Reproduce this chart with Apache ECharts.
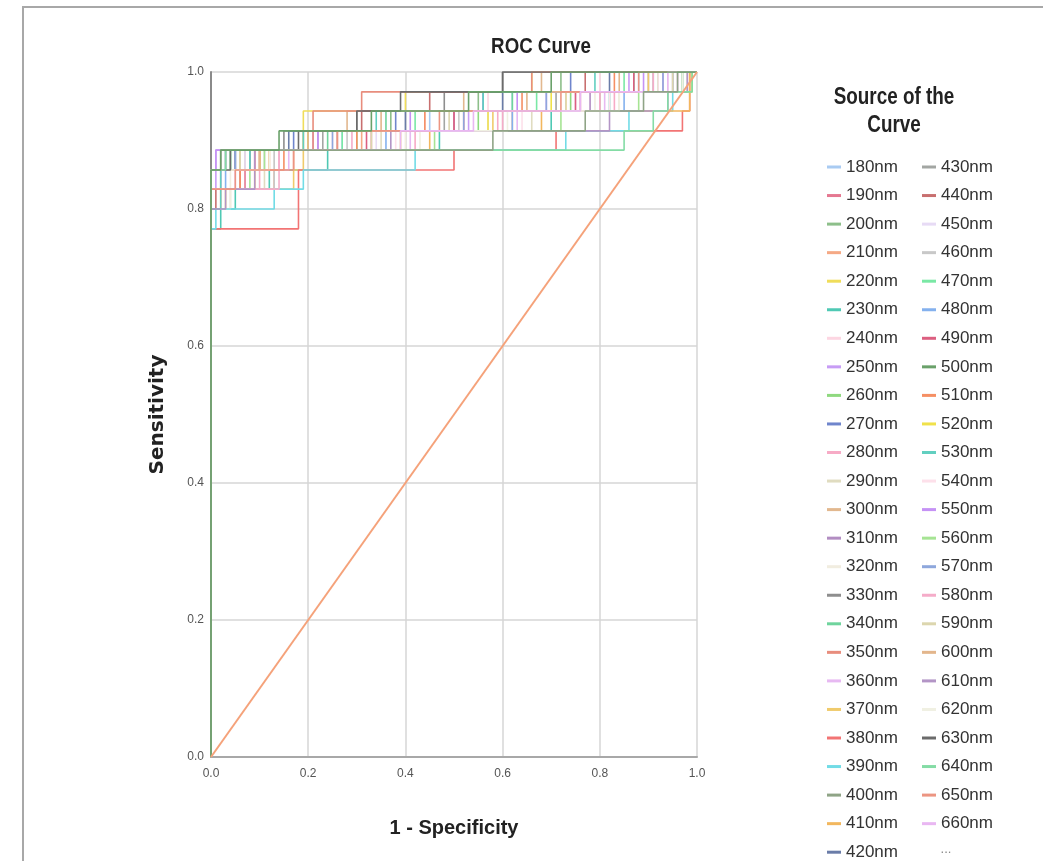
<!DOCTYPE html>
<html>
<head>
<meta charset="utf-8">
<title>ROC Curve</title>
<script src="https://cdn.jsdelivr.net/npm/echarts@6/dist/echarts.min.js"></script>
<style>
  html, body { margin: 0; padding: 0; background: #fff; }
  #chart { width: 1043px; height: 861px; }
</style>
</head>
<body>
<div id="chart"></div>
<script>
// legend labels, in legend order
const wavelengths = [
  "180nm", "190nm", "200nm", "210nm", "220nm", "230nm", "240nm", "250nm", "260nm", "270nm",
  "280nm", "290nm", "300nm", "310nm", "320nm", "330nm", "340nm", "350nm", "360nm", "370nm",
  "380nm", "390nm", "400nm", "410nm", "420nm",
  "430nm", "440nm", "450nm", "460nm", "470nm", "480nm", "490nm", "500nm", "510nm", "520nm",
  "530nm", "540nm", "550nm", "560nm", "570nm", "580nm", "590nm", "600nm", "610nm", "620nm",
  "630nm", "640nm", "650nm", "660nm",
];

const tickValues = [0, 0.2, 0.4, 0.6, 0.8, 1.0];

// ROC corners [1 - specificity, sensitivity], drawn as steps
const roc180 = [[0, 0], [0, 0.857], [0.03, 0.886], [0.27, 0.914], [0.45, 0.943], [0.62, 0.971], [0.88, 1], [1, 1]];
const roc190 = [[0, 0], [0, 0.829], [0.07, 0.857], [0.1, 0.886], [0.33, 0.914], [0.52, 0.943], [0.76, 0.971], [0.93, 1], [1, 1]];
const roc200 = [[0, 0], [0, 0.857], [0.05, 0.886], [0.2, 0.914], [0.37, 0.943], [0.55, 0.971], [0.72, 1], [1, 1]];
const roc210 = [[0, 0], [0, 0.8], [0.02, 0.829], [0.13, 0.857], [0.17, 0.886], [0.31, 0.914], [0.62, 0.943], [0.8, 0.971], [0.95, 1], [1, 1]];
const roc220 = [[0, 0], [0, 0.857], [0.06, 0.886], [0.19, 0.943], [0.4, 0.971], [0.66, 1], [1, 1]];
const roc230 = [[0, 0], [0, 0.771], [0.02, 0.8], [0.05, 0.829], [0.12, 0.857], [0.24, 0.886], [0.47, 0.914], [0.7, 0.943], [0.82, 0.971], [0.97, 1], [1, 1]];
const roc240 = [[0, 0], [0, 0.857], [0.09, 0.886], [0.25, 0.914], [0.44, 0.943], [0.57, 0.971], [0.8, 1], [1, 1]];
const roc250 = [[0, 0], [0, 0.829], [0.01, 0.886], [0.21, 0.914], [0.53, 0.943], [0.69, 0.971], [0.86, 1], [1, 1]];
const roc260 = [[0, 0], [0, 0.857], [0.04, 0.886], [0.3, 0.914], [0.55, 0.943], [0.74, 0.971], [0.92, 1], [1, 1]];
const roc270 = [[0, 0], [0, 0.857], [0.08, 0.886], [0.17, 0.914], [0.38, 0.943], [0.56, 0.971], [0.74, 1], [1, 1]];
const roc280 = [[0, 0], [0, 0.829], [0.1, 0.857], [0.14, 0.886], [0.42, 0.914], [0.59, 0.943], [0.83, 0.971], [0.96, 1], [1, 1]];
const roc290 = [[0, 0], [0, 0.8], [0.04, 0.829], [0.11, 0.886], [0.35, 0.914], [0.66, 0.943], [0.84, 0.971], [0.98, 1], [1, 1]];
const roc300 = [[0, 0], [0, 0.857], [0.06, 0.886], [0.19, 0.914], [0.28, 0.943], [0.52, 0.971], [0.68, 1], [1, 1]];
const roc310 = [[0, 0], [0, 0.829], [0.02, 0.857], [0.05, 0.886], [0.22, 0.914], [0.5, 0.943], [0.78, 0.971], [0.9, 1], [1, 1]];
const roc320 = [[0, 0], [0, 0.8], [0.04, 0.857], [0.13, 0.886], [0.4, 0.914], [0.6, 0.943], [0.79, 0.971], [0.94, 1], [1, 1]];
const roc330 = [[0, 0], [0, 0.857], [0.03, 0.886], [0.15, 0.914], [0.3, 0.943], [0.48, 0.971], [0.6, 1], [1, 1]];
const roc340 = [[0, 0], [0, 0.857], [0.07, 0.886], [0.24, 0.914], [0.36, 0.943], [0.62, 0.971], [0.87, 1], [1, 1]];
const roc350 = [[0, 0], [0, 0.857], [0.12, 0.886], [0.21, 0.943], [0.31, 0.971], [0.66, 1], [1, 1]];
const roc360 = [[0, 0], [0, 0.829], [0.05, 0.857], [0.16, 0.886], [0.41, 0.914], [0.63, 0.943], [0.81, 0.971], [0.93, 1], [1, 1]];
const roc370 = [[0, 0], [0, 0.8], [0.03, 0.829], [0.17, 0.857], [0.19, 0.886], [0.39, 0.914], [0.58, 0.943], [0.73, 0.971], [0.9, 1], [1, 1]];
const roc380 = [[0, 0], [0, 0.771], [0.18, 0.857], [0.5, 0.886], [0.71, 0.914], [0.97, 0.943], [0.985, 1], [1, 1]];
const roc390 = [[0, 0], [0, 0.771], [0.01, 0.8], [0.13, 0.829], [0.19, 0.857], [0.42, 0.886], [0.73, 0.914], [0.86, 0.943], [0.95, 0.971], [0.99, 1], [1, 1]];
const roc400 = [[0, 0], [0, 0.857], [0.02, 0.886], [0.58, 0.914], [0.77, 0.943], [0.89, 0.971], [0.96, 1], [1, 1]];
const roc410 = [[0, 0], [0, 0.829], [0.09, 0.857], [0.12, 0.886], [0.45, 0.914], [0.68, 0.943], [0.985, 1], [1, 1]];
const roc420 = [[0, 0], [0, 0.857], [0.05, 0.886], [0.16, 0.914], [0.4, 0.943], [0.6, 0.971], [0.82, 1], [1, 1]];
const roc430 = [[0, 0], [0, 0.857], [0.08, 0.886], [0.23, 0.914], [0.48, 0.943], [0.71, 0.971], [0.91, 1], [1, 1]];
const roc440 = [[0, 0], [0, 0.8], [0.01, 0.829], [0.06, 0.857], [0.1, 0.886], [0.26, 0.914], [0.31, 0.943], [0.45, 0.971], [0.77, 1], [1, 1]];
const roc450 = [[0, 0], [0, 0.857], [0.11, 0.886], [0.34, 0.914], [0.57, 0.943], [0.75, 0.971], [0.96, 1], [1, 1]];
const roc460 = [[0, 0], [0, 0.829], [0.13, 0.886], [0.28, 0.914], [0.51, 0.943], [0.8, 0.971], [0.97, 1], [1, 1]];
const roc470 = [[0, 0], [0, 0.857], [0.04, 0.886], [0.27, 0.914], [0.42, 0.943], [0.67, 0.971], [0.85, 1], [1, 1]];
const roc480 = [[0, 0], [0, 0.829], [0.03, 0.857], [0.07, 0.886], [0.36, 0.914], [0.62, 0.943], [0.85, 0.971], [0.95, 1], [1, 1]];
const roc490 = [[0, 0], [0, 0.857], [0.09, 0.886], [0.32, 0.914], [0.5, 0.943], [0.75, 0.971], [0.87, 1], [1, 1]];
const roc500 = [[0, 0], [0, 0.857], [0.02, 0.886], [0.14, 0.914], [0.33, 0.943], [0.53, 0.971], [0.7, 1], [1, 1]];
const roc510 = [[0, 0], [0, 0.829], [0.06, 0.857], [0.15, 0.886], [0.3, 0.914], [0.44, 0.943], [0.64, 0.971], [0.83, 1], [1, 1]];
const roc520 = [[0, 0], [0, 0.857], [0.1, 0.886], [0.2, 0.914], [0.57, 0.943], [0.7, 0.971], [0.99, 1], [1, 1]];
const roc530 = [[0, 0], [0, 0.8], [0.02, 0.857], [0.08, 0.886], [0.19, 0.914], [0.34, 0.943], [0.56, 0.971], [0.79, 1], [1, 1]];
const roc540 = [[0, 0], [0, 0.857], [0.07, 0.886], [0.38, 0.914], [0.64, 0.943], [0.82, 0.971], [0.92, 1], [1, 1]];
const roc550 = [[0, 0], [0, 0.857], [0.01, 0.886], [0.22, 0.914], [0.41, 0.943], [0.63, 0.971], [0.89, 1], [1, 1]];
const roc560 = [[0, 0], [0, 0.829], [0.08, 0.857], [0.11, 0.886], [0.46, 0.914], [0.72, 0.943], [0.88, 0.971], [0.97, 1], [1, 1]];
const roc570 = [[0, 0], [0, 0.857], [0.05, 0.886], [0.25, 0.914], [0.52, 0.943], [0.69, 0.971], [0.93, 1], [1, 1]];
const roc580 = [[0, 0], [0, 0.829], [0.14, 0.886], [0.29, 0.914], [0.6, 0.943], [0.8, 0.971], [0.91, 1], [1, 1]];
const roc590 = [[0, 0], [0, 0.857], [0.06, 0.886], [0.33, 0.914], [0.49, 0.943], [0.73, 0.971], [0.95, 1], [1, 1]];
const roc600 = [[0, 0], [0, 0.857], [0.1, 0.886], [0.2, 0.914], [0.35, 0.943], [0.65, 0.971], [0.84, 1], [1, 1]];
const roc610 = [[0, 0], [0, 0.8], [0.03, 0.829], [0.09, 0.886], [0.37, 0.914], [0.82, 0.943], [0.94, 0.971], [0.98, 1], [1, 1]];
const roc620 = [[0, 0], [0, 0.857], [0.12, 0.886], [0.43, 0.914], [0.61, 0.943], [0.84, 0.971], [0.97, 1], [1, 1]];
const roc630 = [[0, 0], [0, 0.857], [0.04, 0.886], [0.18, 0.914], [0.3, 0.943], [0.39, 0.971], [0.6, 1], [1, 1]];
const roc640 = [[0, 0], [0, 0.857], [0.03, 0.886], [0.85, 0.914], [0.91, 0.943], [0.94, 0.971], [0.99, 1], [1, 1]];
const roc650 = [[0, 0], [0, 0.829], [0.05, 0.857], [0.17, 0.886], [0.26, 0.914], [0.47, 0.943], [0.72, 0.971], [0.88, 1], [1, 1]];
const roc660 = [[0, 0], [0, 0.857], [0.02, 0.886], [0.39, 0.914], [0.54, 0.943], [0.76, 0.971], [0.94, 1], [1, 1]];

const curves = [
  roc180, roc190, roc200, roc210, roc220, roc230, roc240, roc250, roc260, roc270,
  roc280, roc290, roc300, roc310, roc320, roc330, roc340, roc350, roc360, roc370,
  roc380, roc390, roc400, roc410, roc420,
  roc430, roc440, roc450, roc460, roc470, roc480, roc490, roc500, roc510, roc520,
  roc530, roc540, roc550, roc560, roc570, roc580, roc590, roc600, roc610, roc620,
  roc630, roc640, roc650, roc660,
];

// reference line
const diagonal = [[0, 0], [1, 1]];

const palette = [
  "#a9cbf2", "#e57891", "#8dbf8a", "#f5a985", "#f0dd5a", "#4fc9b4", "#fdd6e2", "#c79cf5", "#8fd97f", "#6f85cc",
  "#f7abc6", "#e0dcc0", "#e2b88f", "#b28dc2", "#f1ede0", "#8e8e8e", "#6fd49d", "#e88d7d", "#e7b9f2", "#f0cb6c",
  "#f27474", "#72dce6", "#8fa486", "#f2b75e", "#6a7ca8",
  "#a3a6a3", "#c86f6f", "#e7dbf5", "#c8c8c8", "#7ae8a5", "#84b1ee", "#dc5f80", "#6aa16a", "#f58f64", "#f0e14a",
  "#62cfc0", "#fde0ea", "#c592f5", "#a6e494", "#8ea7dc", "#f5acc9", "#dcd6ae", "#e3b68c", "#b395c6", "#f0f0e2",
  "#6b6b6b", "#84dca5", "#ec9582", "#e9b7f2",
];

// series drawn on top, as in the picture
const onTop = { "500nm": 4, "400nm": 3 };

const sans = "'Liberation Sans', Arial, sans-serif";

const chart = echarts.init(document.getElementById("chart"));

const series = wavelengths.map((name, i) => ({
  name: name,
  type: "line",
  step: "end",
  symbol: "none",
  z: onTop[name] || 2,
  data: curves[i],
  lineStyle: { width: 1.6 },
  emphasis: { disabled: true },
}));

series.push({
  name: "diagonal",
  type: "line",
  symbol: "none",
  z: 5,
  data: diagonal,
  lineStyle: { width: 2, color: "#f5a27a" },
  itemStyle: { color: "#f5a27a" },
  emphasis: { disabled: true },
});

const legendBase = {
  orient: "vertical",
  top: 152,
  height: 760,
  icon: "rect",
  itemWidth: 14,
  itemHeight: 3,
  itemGap: 8.55,
  selectedMode: false,
  textStyle: {
    fontFamily: sans,
    fontSize: 17,
    lineHeight: 20,
    color: "#333",
  },
};

const option = {
  animation: false,
  backgroundColor: "#fff",
  color: palette,
  grid: {
    left: 211,
    right: 346,
    top: 72,
    bottom: 104,
  },
  xAxis: {
    type: "value",
    min: tickValues[0],
    max: tickValues[tickValues.length - 1],
    interval: 0.2,
    name: "1 - Specificity",
    nameLocation: "middle",
    nameGap: 61,
    nameTextStyle: {
      fontFamily: sans,
      fontSize: 20,
      fontWeight: "bold",
      color: "#222",
    },
    axisLine: { lineStyle: { color: "#a8a8a8", width: 2 } },
    axisTick: { show: false },
    axisLabel: {
      margin: 11,
      fontFamily: sans,
      fontSize: 12,
      color: "#555",
      formatter: (v) => v.toFixed(1),
    },
    splitLine: { show: true, lineStyle: { color: "#d6d6d6", width: 1.5 } },
  },
  yAxis: {
    type: "value",
    min: tickValues[0],
    max: tickValues[tickValues.length - 1],
    interval: 0.2,
    name: "Sensitivity",
    nameLocation: "middle",
    nameGap: 43,
    nameTextStyle: {
      fontFamily: "'DejaVu Sans', sans-serif",
      fontSize: 20,
      fontWeight: "bold",
      color: "#222",
    },
    axisLine: { show: true, lineStyle: { color: "#8a8a8a", width: 2 } },
    axisTick: { show: false },
    axisLabel: {
      margin: 7,
      fontFamily: sans,
      fontSize: 12,
      color: "#555",
      formatter: (v) => v.toFixed(1),
    },
    splitLine: { show: true, lineStyle: { color: "#d6d6d6", width: 1.5 } },
  },
  legend: [
    Object.assign({}, legendBase, { left: 822, data: wavelengths.slice(0, 25) }),
    Object.assign({}, legendBase, { left: 917, data: wavelengths.slice(25) }),
  ],
  graphic: [
    {
      type: "rect",
      silent: true,
      shape: { x: 23, y: 7, width: 1040, height: 880 },
      style: { fill: "none", stroke: "#a8a8a8", lineWidth: 2 },
    },
    {
      type: "text",
      x: 541,
      y: 47,
      scaleX: 0.85,
      style: {
        text: "ROC Curve",
        fontFamily: sans,
        fontSize: 22,
        fontWeight: "bold",
        fill: "#222",
        align: "center",
        verticalAlign: "middle",
      },
    },
    {
      type: "text",
      x: 894,
      y: 112,
      scaleX: 0.82,
      style: {
        text: "Source of the\nCurve",
        fontFamily: sans,
        fontSize: 23,
        lineHeight: 28,
        fontWeight: "bold",
        fill: "#222",
        align: "center",
        verticalAlign: "middle",
      },
    },
    {
      type: "text",
      x: 946,
      y: 849,
      style: {
        text: "...",
        fontFamily: sans,
        fontSize: 13,
        fill: "#888",
        align: "center",
        verticalAlign: "middle",
      },
    },
  ],
  series: series,
};

chart.setOption(option);
</script>
</body>
</html>
